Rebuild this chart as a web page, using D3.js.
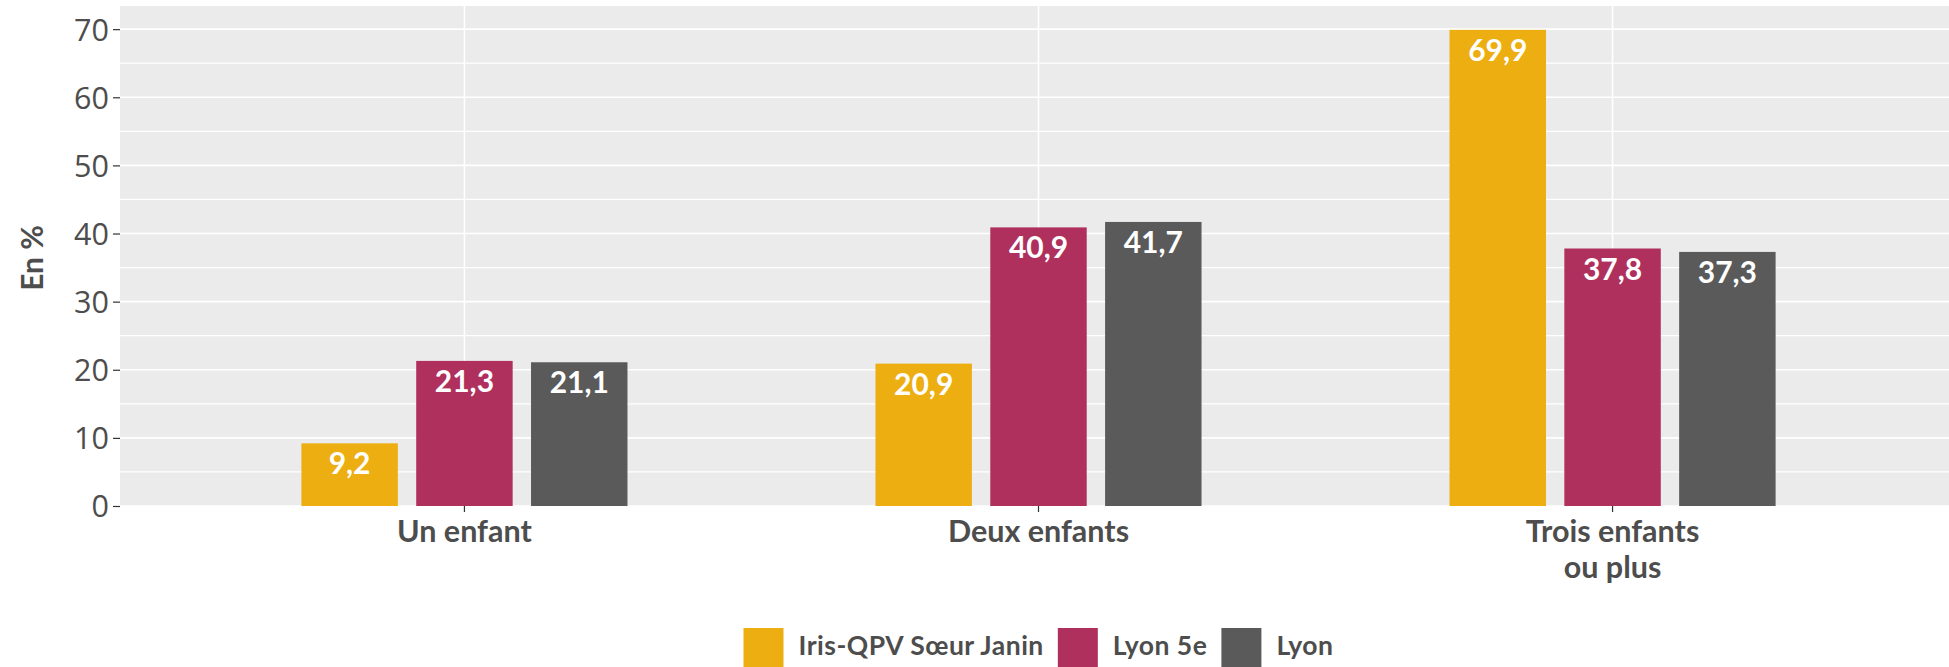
<!DOCTYPE html>
<html>
<head>
<meta charset="utf-8">
<script src="https://cdnjs.cloudflare.com/ajax/libs/d3/7.8.5/d3.min.js"></script>
<style>
  html, body { margin: 0; padding: 0; background: #ffffff; overflow: hidden; }
  svg { display: block; }
</style>
</head>
<body>
<svg id="chart" width="1949" height="667"></svg>
<script>
// ---- data ----
const categories = ["Un enfant", "Deux enfants", "Trois enfants\nou plus"];
const seriesNames = ["Iris-QPV Sœur Janin", "Lyon 5e", "Lyon"];
const irisValues = [9.2, 20.9, 69.9];
const lyon5Values = [21.3, 40.9, 37.8];
const lyonValues = [21.1, 41.7, 37.3];
const yTicks = [0, 10, 20, 30, 40, 50, 60, 70];
const yMinorTicks = [5, 15, 25, 35, 45, 55, 65];
const yTitle = "En %";
const colors = ["#EDAE11", "#AF2F5D", "#5A5A5A"];

const seriesValues = [irisValues, lyon5Values, lyonValues];
const rows = [];
categories.forEach((c, i) => {
  seriesNames.forEach((s, j) => rows.push({ cat: c, series: s, value: seriesValues[j][i], color: colors[j] }));
});

// ---- layout ----
const svg = d3.select("#chart");
const panel = { left: 120, right: 1957, top: 6, bottom: 506 };

const x = d3.scaleBand().domain(categories)
  .range([panel.left, panel.right]).paddingInner(0).paddingOuter(0.1);
const step = x.step();
const x1 = d3.scaleBand().domain(seriesNames)
  .range([-0.3 * step, 0.3 * step]).paddingInner(0.16).paddingOuter(0.08);
const y = d3.scaleLinear().domain([0, 73.4]).range([panel.bottom, panel.top]);

const locale = d3.formatLocale({ decimal: ",", thousands: " ", grouping: [3], currency: ["", "€"] });
const fmt = locale.format(".1f");

// panel background
svg.append("rect")
  .attr("x", panel.left).attr("y", panel.top)
  .attr("width", panel.right - panel.left).attr("height", panel.bottom - panel.top)
  .attr("fill", "#EBEBEB");

// minor grid
svg.append("g").selectAll("line").data(yMinorTicks).join("line")
  .attr("x1", panel.left).attr("x2", panel.right)
  .attr("y1", d => y(d)).attr("y2", d => y(d))
  .attr("stroke", "#ffffff").attr("stroke-width", 1.2);
// major grid
svg.append("g").selectAll("line").data(yTicks).join("line")
  .attr("x1", panel.left).attr("x2", panel.right)
  .attr("y1", d => y(d)).attr("y2", d => y(d))
  .attr("stroke", "#ffffff").attr("stroke-width", 1.6);
// vertical grid
svg.append("g").selectAll("line").data(categories).join("line")
  .attr("x1", d => x(d) + x.bandwidth() / 2).attr("x2", d => x(d) + x.bandwidth() / 2)
  .attr("y1", panel.top).attr("y2", panel.bottom)
  .attr("stroke", "#ffffff").attr("stroke-width", 1.6);

// bars
const cx = d => x(d.cat) + x.bandwidth() / 2 + x1(d.series);
svg.append("g").selectAll("rect").data(rows).join("rect")
  .attr("x", cx)
  .attr("y", d => y(d.value))
  .attr("width", x1.bandwidth())
  .attr("height", d => y(0) - y(d.value))
  .attr("fill", d => d.color);

// value labels
svg.append("g").selectAll("text").data(rows).join("text")
  .attr("x", d => cx(d) + x1.bandwidth() / 2)
  .attr("y", d => y(d.value) + 31)
  .attr("text-anchor", "middle")
  .attr("font-family", "Lato, 'Noto Sans', sans-serif")
  .attr("font-weight", "bold")
  .attr("font-size", 30)
  .attr("fill", "#ffffff")
  .text(d => fmt(d.value));

// y axis
const yAxis = d3.axisLeft(y).tickValues(yTicks).tickSize(7).tickPadding(4).tickFormat(d3.format("d"));
const gy = svg.append("g").attr("transform", `translate(${panel.left},0)`).call(yAxis);
gy.select(".domain").remove();
gy.selectAll(".tick line").attr("stroke", "#333333").attr("stroke-width", 1.2);
gy.selectAll(".tick text")
  .attr("font-family", "'Open Sans', sans-serif")
  .attr("font-size", 30.5)
  .attr("fill", "#4D4D4D")
  .attr("dy", "0.36em");

// x axis
const xAxis = d3.axisBottom(x).tickSize(6).tickPadding(0).tickFormat("");
const gx = svg.append("g").attr("transform", `translate(0,${panel.bottom})`).call(xAxis);
gx.select(".domain").remove();
gx.selectAll(".tick line").attr("stroke", "#333333").attr("stroke-width", 1.2);
gx.selectAll(".tick text").remove();

const xl = svg.append("g").selectAll("text").data(categories).join("text")
  .attr("x", d => x(d) + x.bandwidth() / 2)
  .attr("y", 542)
  .attr("text-anchor", "middle")
  .attr("font-family", "Lato, 'Noto Sans', sans-serif")
  .attr("font-weight", "bold")
  .attr("font-size", 30.5)
  .attr("fill", "#4D4D4D");
xl.each(function(d) {
  const lines = d.split("\n");
  const t = d3.select(this);
  lines.forEach((ln, i) => {
    t.append("tspan").attr("x", x(d) + x.bandwidth() / 2).attr("dy", i === 0 ? 0 : 36).text(ln);
  });
});

// y title
svg.append("text")
  .attr("transform", `translate(43,${(panel.top + panel.bottom) / 2 + 2}) rotate(-90)`)
  .attr("text-anchor", "middle")
  .attr("font-family", "Lato, 'Noto Sans', sans-serif")
  .attr("font-weight", "bold")
  .attr("font-size", 30)
  .attr("fill", "#4D4D4D")
  .text(yTitle);

// legend
const legend = svg.append("g");
const keySize = 40, keyGap = 15, itemGap = 14;
const items = seriesNames.map((s, i) => {
  const g = legend.append("g");
  g.append("rect").attr("width", keySize).attr("height", keySize).attr("fill", colors[i]);
  const t = g.append("text")
    .attr("x", keySize + keyGap).attr("y", 27)
    .attr("font-family", "Lato, 'Noto Sans', sans-serif")
    .attr("font-weight", "bold")
    .attr("font-size", 26.5)
    .attr("letter-spacing", 0.5)
    .attr("fill", "#4D4D4D")
    .text(s);
  return { g, w: keySize + keyGap + t.node().getComputedTextLength() };
});
const totalW = d3.sum(items, d => d.w) + itemGap * (items.length - 1);
let lx = (panel.left + panel.right) / 2 - totalW / 2;
items.forEach(it => {
  it.g.attr("transform", `translate(${lx},628)`);
  lx += it.w + itemGap;
});
</script>
</body>
</html>
